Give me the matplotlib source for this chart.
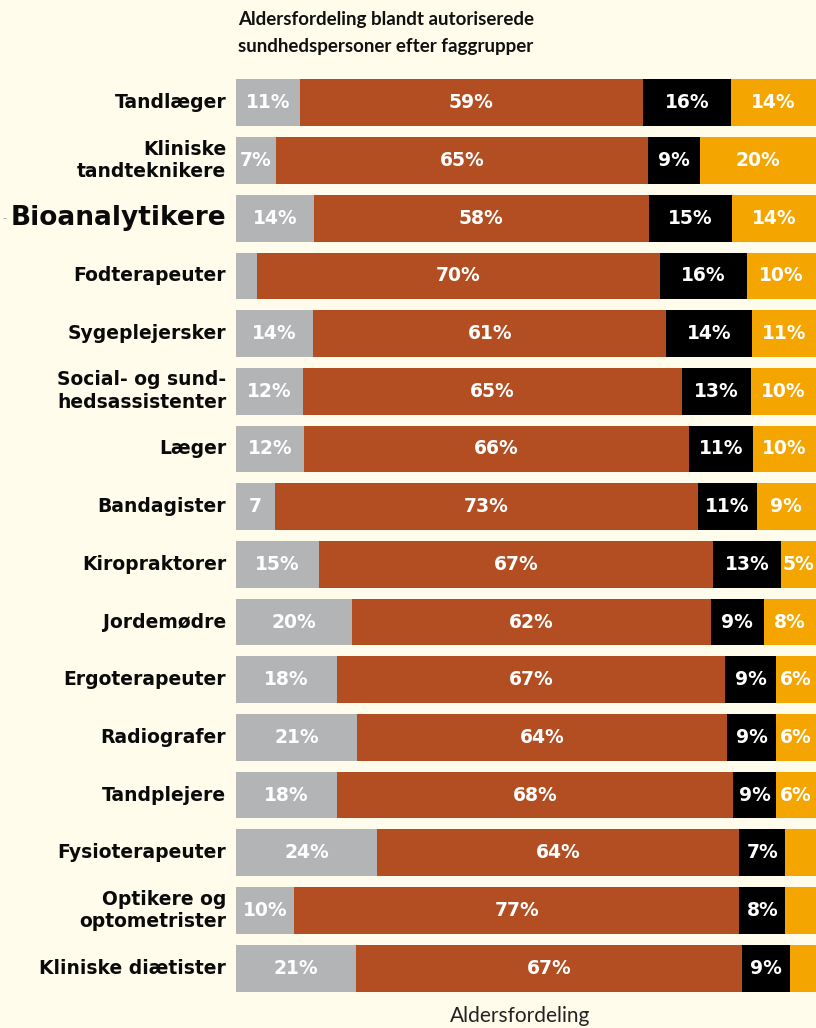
import matplotlib
matplotlib.use("Agg")
import matplotlib.pyplot as plt

categories = ["Tandlæger", "Kliniske\ntandteknikere", "Bioanalytikere", "Fodterapeuter",
              "Sygeplejersker", "Social- og sund-\nhedsassistenter", "Læger", "Bandagister",
              "Kiropraktorer", "Jordemødre", "Ergoterapeuter", "Radiografer", "Tandplejere",
              "Fysioterapeuter", "Optikere og\noptometrister", "Kliniske diætister"]

# segment widths (share of 100 %)
grey_vals   = [11.0, 6.9, 13.4, 3.6, 13.3, 11.6, 11.7, 6.7, 14.3, 20.0, 17.4, 20.9, 17.4, 24.3, 10.0, 20.7]
brown_vals  = [59.1, 64.1, 57.8, 69.5, 60.9, 65.3, 66.4, 72.9, 68.0, 61.9, 66.9, 63.8, 68.3, 62.5, 76.8, 66.5]
black_vals  = [15.3, 9.0, 14.3, 15.0, 14.7, 11.9, 11.0, 10.2, 11.7, 9.1, 8.8, 8.4, 7.4, 7.9, 7.9, 8.3]
orange_vals = [14.6, 20.0, 14.5, 11.9, 11.1, 11.2, 10.9, 10.2, 6.0, 9.0, 6.9, 6.9, 6.9, 5.3, 5.3, 4.5]

# printed labels
grey_labels   = ["11%", "7%", "14%", "", "14%", "12%", "12%", "7", "15%", "20%", "18%", "21%", "18%", "24%", "10%", "21%"]
brown_labels  = ["59%", "65%", "58%", "70%", "61%", "65%", "66%", "73%", "67%", "62%", "67%", "64%", "68%", "64%", "77%", "67%"]
black_labels  = ["16%", "9%", "15%", "16%", "14%", "13%", "11%", "11%", "13%", "9%", "9%", "9%", "9%", "7%", "8%", "9%"]
orange_labels = ["14%", "20%", "14%", "10%", "11%", "10%", "10%", "9%", "5%", "8%", "6%", "6%", "6%", "", "", ""]

title = "Aldersfordeling blandt autoriserede\nsundhedspersoner efter faggrupper"
xlabel = "Aldersfordeling"

BG = "#FFFCEC"
colors = ["#B3B4B6", "#B34E23", "#000000", "#F5A500"]

fig = plt.figure(figsize=(8.16, 10.28), dpi=100, facecolor=BG)
ax = fig.add_axes([236/816, 1-997/1028, 1-236/816, (997-74)/1028])
ax.set_facecolor(BG)

series = [grey_vals, brown_vals, black_vals, orange_vals]
labels = [grey_labels, brown_labels, black_labels, orange_labels]
ypos = list(range(len(categories)))
left = [0]*len(categories)
for vals, labs, col in zip(series, labels, colors):
    ax.barh(ypos, vals, left=left, color=col, height=0.81, edgecolor="none")
    for i, (v, l, lab) in enumerate(zip(vals, left, labs)):
        if lab:
            ax.text(l + v/2, i, lab, ha="center", va="center", color="white",
                    fontsize=13.5, fontweight="bold", family="DejaVu Sans")
    left = [a + b for a, b in zip(left, vals)]

ax.set_xlim(0, 100)
ax.set_ylim(len(categories)-0.5, -0.5)
ax.set_yticks(ypos)
ax.set_yticklabels([])
for s in ax.spines.values():
    s.set_visible(False)
ax.tick_params(left=False, bottom=False, labelbottom=False)

for i, c in enumerate(categories):
    fs = 19 if c == "Bioanalytikere" else 13.5
    ax.text(-1.7, i, c, ha="right", va="center", multialignment="right",
            fontsize=fs, fontweight="bold", family="DejaVu Sans",
            linespacing=1.25, color="#0A0A0A")

fig.text(2/816, 1-218/1028, "-", fontsize=8, color="#999999", ha="left", va="center")

fig.text(238/816, 1-33/1028, title, ha="left", va="center", fontsize=13.5,
         fontweight="bold", family=["Lato", "DejaVu Sans"], linespacing=1.7, color="#111111")

fig.text(520/816, 1-1022/1028, xlabel, ha="center", va="baseline", fontsize=15,
         family=["Lato", "DejaVu Sans"], color="#222222")

fig.savefig("out.png", dpi=100, facecolor=BG)
